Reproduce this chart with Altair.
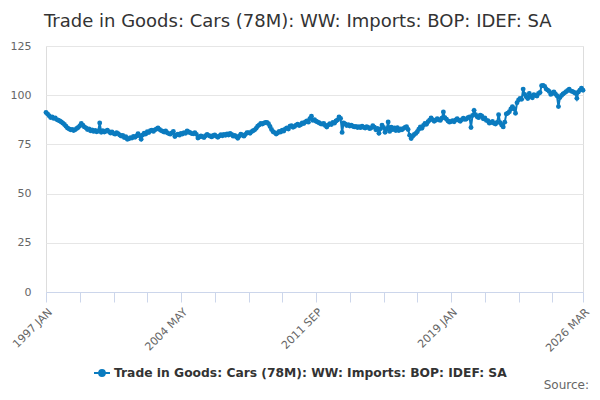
import altair as alt
import pandas as pd

SERIES = "Trade in Goods: Cars (78M): WW: Imports: BOP: IDEF: SA"
TITLE = "Trade in Goods: Cars (78M): WW: Imports: BOP: IDEF: SA"
SOURCE = "Source:"
MONTHS = ["JAN", "FEB", "MAR", "APR", "MAY", "JUN", "JUL", "AUG", "SEP", "OCT", "NOV", "DEC"]
START_YEAR = 1997

v1997 = [91.2, 90.5, 89.6, 88.7, 88.9, 88.2, 88.4, 87.6, 87.3, 86.9, 86.4, 85.8]
v1998 = [85.1, 84.2, 83.3, 82.9, 82.4, 82.6, 82.0, 82.5, 83.1, 83.6, 84.4, 85.6]
v1999 = [84.8, 83.9, 83.4, 82.6, 82.9, 81.9, 82.3, 81.6, 82.1, 81.4, 81.8, 85.9]
v2000 = [81.2, 81.9, 81.3, 81.7, 82.2, 81.5, 80.8, 81.3, 80.6, 80.2, 80.9, 80.5]
v2001 = [79.8, 79.3, 79.6, 78.5, 78.9, 77.6, 77.9, 78.4, 78.2, 79.0, 78.6, 79.3]
v2002 = [80.5, 79.4, 77.6, 79.8, 80.7, 80.3, 81.4, 81.0, 81.9, 82.2, 81.6, 82.4]
v2003 = [82.8, 83.3, 82.6, 82.0, 81.7, 81.3, 81.8, 80.9, 80.5, 80.2, 80.8, 81.6]
v2004 = [79.0, 79.8, 80.2, 79.7, 80.6, 80.3, 81.0, 80.7, 81.8, 81.3, 80.9, 80.5]
v2005 = [80.4, 81.0, 80.1, 78.2, 78.7, 79.3, 78.9, 78.5, 79.4, 80.0, 79.6, 79.2]
v2006 = [78.8, 79.5, 79.8, 79.1, 78.6, 79.3, 79.9, 79.4, 80.1, 79.6, 80.3, 79.8]
v2007 = [80.6, 80.0, 79.2, 79.6, 78.9, 78.1, 79.3, 80.2, 79.7, 79.2, 80.1, 80.9]
v2008 = [81.0, 80.7, 81.5, 81.9, 82.4, 83.2, 84.3, 84.9, 85.6, 85.4, 85.8, 86.1]
v2009 = [86.2, 85.5, 84.1, 82.6, 81.4, 81.0, 80.3, 80.8, 81.6, 81.3, 82.2, 81.8]
v2010 = [82.9, 83.4, 82.8, 84.2, 84.5, 83.7, 84.1, 84.8, 85.3, 84.6, 85.0, 85.9]
v2011 = [85.6, 86.4, 86.9, 86.3, 88.1, 89.3, 87.2, 87.6, 86.8, 86.4, 86.0, 85.5]
v2012 = [85.3, 85.7, 84.6, 83.8, 84.9, 85.5, 85.1, 86.2, 85.8, 86.9, 87.4, 88.9]
v2013 = [88.2, 81.1, 85.9, 85.4, 84.6, 85.0, 84.3, 84.7, 84.2, 83.9, 84.1, 83.6]
v2014 = [84.0, 83.5, 84.2, 83.7, 83.3, 84.0, 83.6, 83.0, 83.4, 84.5, 83.8, 82.4]
v2015 = [83.1, 80.7, 82.9, 84.8, 83.6, 81.2, 82.8, 86.4, 81.6, 83.8, 82.5, 83.3]
v2016 = [82.1, 83.5, 82.0, 82.9, 82.4, 83.1, 83.6, 84.0, 82.6, 79.7, 78.0, 79.2]
v2017 = [80.0, 80.6, 81.4, 82.7, 83.9, 83.2, 84.6, 85.7, 85.2, 86.5, 87.3, 88.4]
v2018 = [87.6, 86.8, 87.3, 88.0, 87.5, 87.2, 88.3, 91.5, 88.6, 87.8, 86.9, 86.3]
v2019 = [86.6, 87.1, 86.5, 87.4, 88.0, 87.3, 86.8, 87.6, 88.3, 87.7, 87.9, 88.6]
v2020 = [89.0, 83.6, 89.7, 92.3, 90.1, 89.0, 88.6, 89.9, 89.4, 88.0, 88.5, 87.2]
v2021 = [87.0, 85.8, 86.1, 86.6, 85.7, 85.4, 86.2, 90.1, 86.0, 84.8, 83.9, 86.3]
v2022 = [90.5, 90.9, 91.6, 93.0, 94.2, 93.1, 90.8, 96.2, 97.6, 98.4, 97.9, 103.1]
v2023 = [100.4, 99.2, 98.3, 100.9, 99.5, 98.7, 100.2, 99.8, 99.6, 100.9, 101.4, 104.8]
v2024 = [105.0, 104.5, 103.1, 102.6, 101.9, 100.4, 101.0, 101.7, 100.6, 99.7, 94.2, 98.8]
v2025 = [99.9, 100.6, 101.2, 101.8, 102.4, 103.0, 102.2, 101.9, 101.5, 101.0, 98.4, 101.6]
v2026 = [102.6, 103.6, 102.5]

values = (v1997 + v1998 + v1999 + v2000 + v2001 + v2002 + v2003 + v2004 + v2005 + v2006
          + v2007 + v2008 + v2009 + v2010 + v2011 + v2012 + v2013 + v2014 + v2015 + v2016
          + v2017 + v2018 + v2019 + v2020 + v2021 + v2022 + v2023 + v2024 + v2025 + v2026)

labels = [f"{START_YEAR + i // 12} {MONTHS[i % 12]}" for i in range(len(values))]
last = len(values) - 1

df = pd.DataFrame({"idx": list(range(len(values))), "month": labels,
                   "value": values, "series": SERIES})

tick_idx = list(range(0, last - 19, 22)) + [last]
label_idx = [0, 88, 176, 264, last]
expr = "''"
for i in reversed(label_idx):
    expr = f"datum.value == {i} ? '{labels[i]}' : ({expr})"

BLUE = "#0b7bbf"
FONT = "DejaVu Sans"

x = alt.X("idx:Q",
          scale=alt.Scale(domain=[0, last], nice=False, zero=False),
          axis=alt.Axis(values=tick_idx, labelExpr=expr, title=None, grid=False,
                        domainColor="#ccd6eb", tickColor="#ccd6eb", tickSize=10,
                        labelAngle=315, labelAlign="right", labelBaseline="top",
                        labelColor="#666666", labelFontSize=11, labelFont=FONT,
                        labelPadding=4, labelOverlap=False, labelFlush=False))
y = alt.Y("value:Q",
          scale=alt.Scale(domain=[0, 125], nice=False),
          axis=alt.Axis(values=[0, 25, 50, 75, 100, 125], title=None, domain=False,
                        ticks=False, gridColor="#e6e6e6", labelColor="#666666",
                        labelFontSize=11, labelFont=FONT, labelPadding=15))

legend = alt.Legend(orient="none", legendX=47, legendY=318, title=None,
                    symbolType="M-1,0H1M-0.36,0A0.36,0.36 0 1 1 0.36,0A0.36,0.36 0 1 1 -0.36,0",
                    symbolSize=256, symbolStrokeWidth=2, symbolFillColor=BLUE,
                    symbolStrokeColor=BLUE, labelFont=FONT, labelFontWeight="bold",
                    labelFontSize=12.3, labelColor="#333333", labelLimit=0, labelOffset=3)

line = alt.Chart(df).mark_line(strokeWidth=2).encode(
    x=x, y=y,
    color=alt.Color("series:N", scale=alt.Scale(range=[BLUE]), legend=legend))
pts = alt.Chart(df).mark_point(filled=True, size=24, opacity=1, color=BLUE).encode(x=x, y=y)

src_df = pd.DataFrame({"t": [SOURCE]})
src = alt.Chart(src_df).mark_text(align="right", baseline="alphabetic",
                                  font=FONT, fontSize=12, color="#666666").encode(
    text="t:N", x=alt.value(543), y=alt.value(343))

chart = alt.layer(line, pts, src).properties(
    width=537, height=246,
    autosize=alt.AutoSizeParams(type="none"),
    padding={"left": 38, "top": 38, "right": 9, "bottom": 100},
    title=alt.TitleParams(TITLE, anchor="start", frame="group", fontSize=18, font=FONT,
                          fontWeight="normal", color="#333333", offset=9, dx=-2),
).configure_view(stroke=None).configure(font=FONT)

chart.save("out.html", embed_options={"renderer": "svg", "actions": False})
